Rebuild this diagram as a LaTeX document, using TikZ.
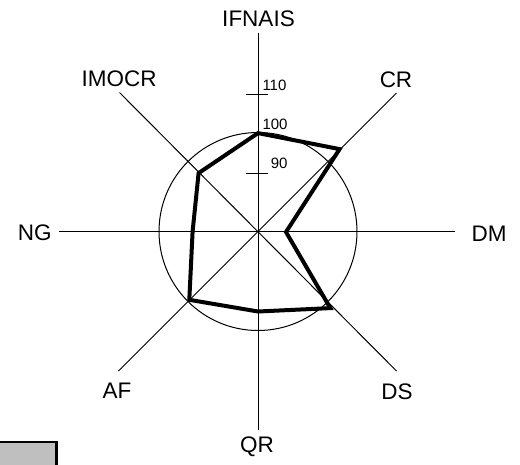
\documentclass[tikz,border=0pt]{standalone}
\usepackage{fontspec}
\setmainfont{Liberation Sans}
\usetikzlibrary{calc}
\tikzset{
  axislabel/.style={anchor=base, inner sep=0pt, font=\fontsize{22.5}{26}\selectfont},
  ticklabel/.style={anchor=base west, inner sep=0pt, font=\fontsize{15}{18}\selectfont},
  axisline/.style={line width=1pt, black},
  profile/.style={line width=4pt, black, line join=miter},
  legendbox/.style={fill=black!25, draw=black, line width=2.5pt}
}
\begin{document}
\begin{tikzpicture}[x=1pt,y=-1pt]
\useasboundingbox (0,0) rectangle (520,464);
\coordinate (C) at (258,231.5);
% axis ends
\coordinate (eN) at ($(C)+(0,-199)$);
\coordinate (eS) at ($(C)+(0,198.5)$);
\coordinate (eW) at ($(C)+(-199,0)$);
\coordinate (eE) at ($(C)+(197,0)$);
\coordinate (eNE) at ($(C)+(138.5,-138.5)$);
\coordinate (eSE) at ($(C)+(138.5,139.5)$);
\coordinate (eSW) at ($(C)+(-139.5,139.5)$);
\coordinate (eNW) at ($(C)+(-138.5,-139)$);
\draw[axisline] (eW) -- (eE);
\draw[axisline] (eN) -- (eS);
\draw[axisline] (eSW) -- (eNE);
\draw[axisline] (eNW) -- (eSE);
% circle at value 100
\draw[axisline] (C) circle[radius=99];
% ticks
\coordinate (t110a) at ($(C)+(-12,-137.2)$);
\coordinate (t110b) at ($(C)+(10,-137.2)$);
\coordinate (t90a) at ($(C)+(-12,-58.2)$);
\coordinate (t90b) at ($(C)+(10,-58.2)$);
\draw[axisline] (t110a) -- (t110b);
\draw[axisline] (t90a) -- (t90b);
\node[ticklabel] (l110) at (262.3,90.7) {110};
\node[ticklabel] (l100) at (262.3,129.3) {100};
\node[ticklabel] (l90) at (270.7,168.3) {90};
% profile
\coordinate (pN) at ($(C)+(0,-98.4)$);
\coordinate (pNE) at ($(C)+(81.6,-82.4)$);
\coordinate (pE) at ($(C)+(28,0.5)$);
\coordinate (pSE) at ($(C)+(72.3,76.6)$);
\coordinate (pS) at ($(C)+(0,80)$);
\coordinate (pSW) at ($(C)+(-68.7,68.3)$);
\coordinate (pW) at ($(C)+(-65.4,0)$);
\coordinate (pNW) at ($(C)+(-59.4,-58.4)$);
\draw[profile] (pN) -- (pNE) -- (pE) -- (pSE) -- (pS) -- (pSW) -- (pW) -- (pNW) -- cycle;
% labels
\node[axislabel] (IFNAIS) at (258.5,26.7) {IFNAIS};
\node[axislabel] (CR) at (396,87.3) {CR};
\node[axislabel] (DM) at (489,241.5) {DM};
\node[axislabel] (DS) at (397,399.3) {DS};
\node[axislabel] (QR) at (257,452) {QR};
\node[axislabel] (AF) at (117,398) {AF};
\node[axislabel] (NG) at (34.7,240.5) {NG};
\node[axislabel] (IMOCR) at (119,86.7) {IMOCR};
% legend box (partly outside)
\node[legendbox, minimum width=70pt, minimum height=40pt, inner sep=0pt, anchor=north east] (legend) at (57.5,440.5) {};
\end{tikzpicture}
\end{document}
